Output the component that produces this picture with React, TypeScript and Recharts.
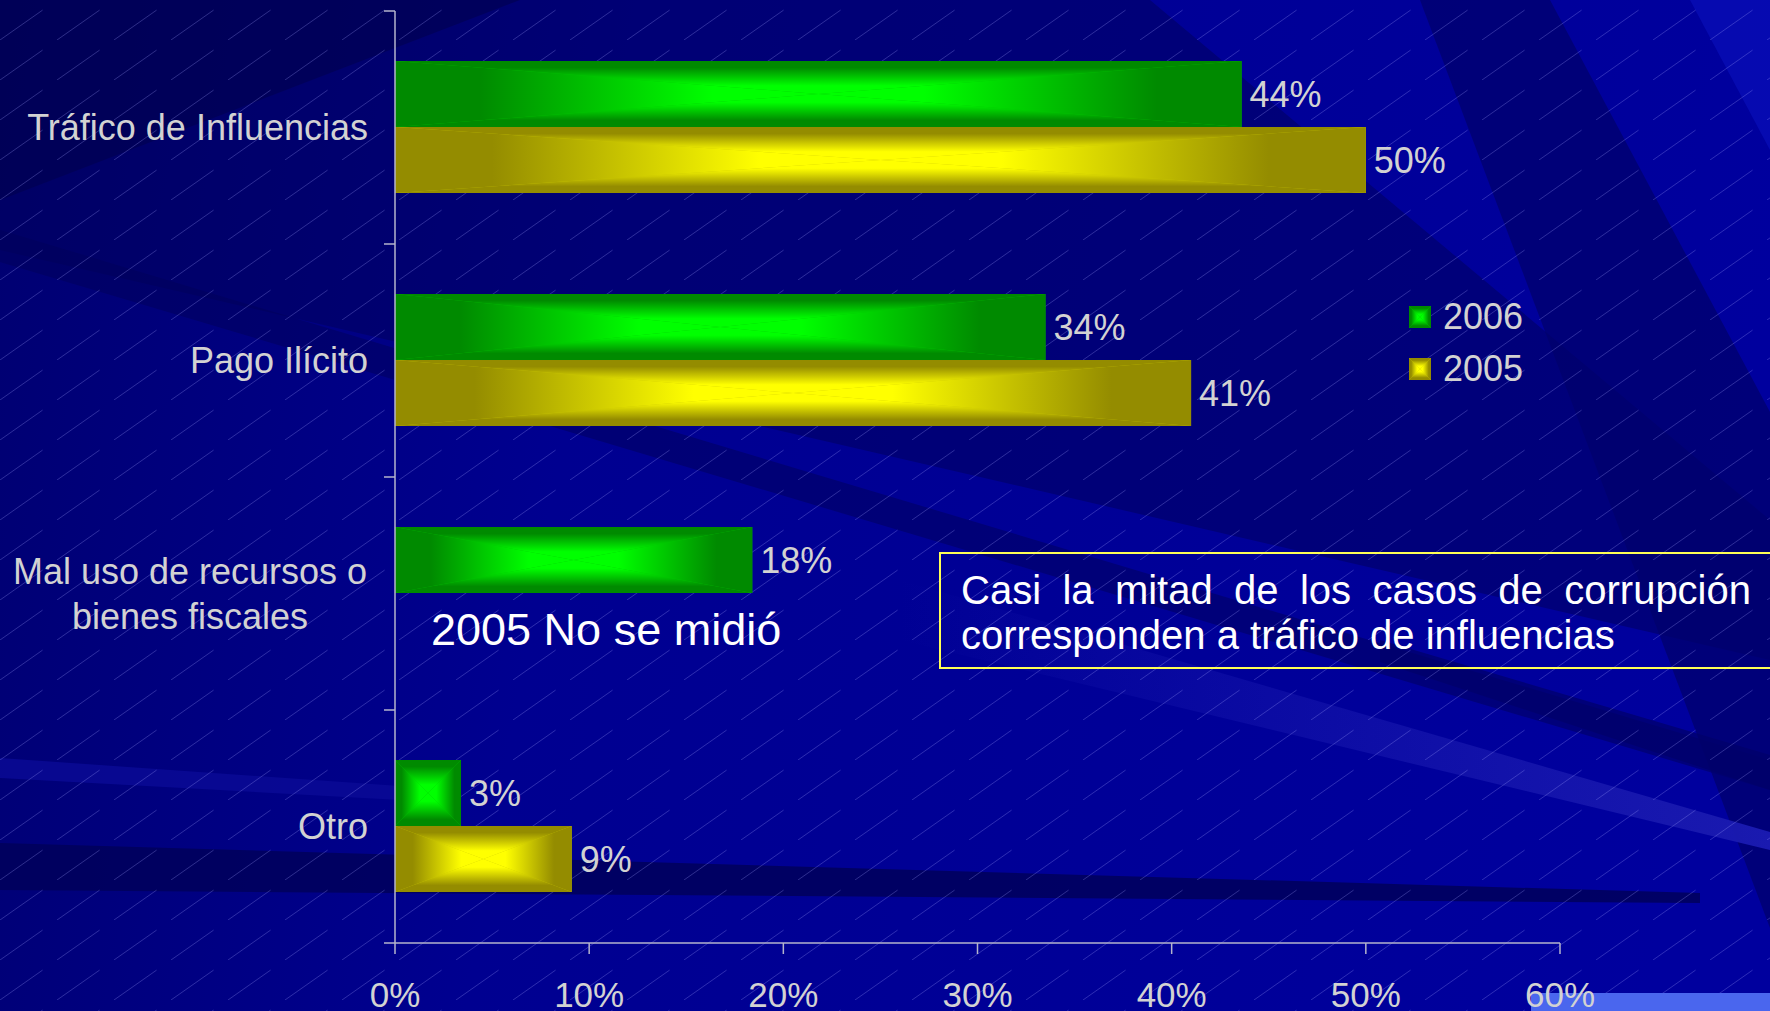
import React from 'react';
import { Bar, BarChart, LabelList, XAxis, YAxis } from 'recharts';

const categories = [
  'Tráfico de Influencias',
  'Pago Ilícito',
  'Mal uso de recursos o\nbienes fiscales',
  'Otro',
];
const values2006 = [43.6, 33.5, 18.4, 3.4];
const values2005: (number | null)[] = [50, 41, null, 9.1];
const seriesNames = ['2006', '2005'];
const xTicks = [0, 10, 20, 30, 40, 50, 60];
const noteText = 'Casi la mitad de los casos de corrupción corresponden a tráfico de influencias';
const missingText = '2005 No se midió';

const data = categories.map((name, i) => ({
  name,
  y2006: values2006[i],
  y2005: values2005[i],
}));

const FONT = '"Liberation Sans", Arial, sans-serif';
const LABEL_GREY = '#d2d2d2';
const AXIS_GREY = '#b4b4cc';

const tones = {
  green: { edge: '#008a00', mid: '#00c400', center: '#00ff00' },
  yellow: { edge: '#948c00', mid: '#c8c400', center: '#ffff00' },
};

function PillowDefs() {
  const dirs: [string, number, number, number, number][] = [
    ['t', 0, 0, 0, 1],
    ['b', 0, 1, 0, 0],
    ['l', 0, 0, 1, 0],
    ['r', 1, 0, 0, 0],
  ];
  return (
    <>
      {Object.entries(tones).map(([key, c]) =>
        dirs.map(([d, x1, y1, x2, y2]) => (
          <linearGradient key={key + d} id={`${key}-${d}`} x1={x1} y1={y1} x2={x2} y2={y2}>
            <stop offset='0' stopColor={c.edge} />
            <stop offset='0.2' stopColor={c.edge} />
            <stop offset='0.75' stopColor={c.center} />
            <stop offset='1' stopColor={c.center} />
          </linearGradient>
        ))
      )}
    </>
  );
}

// rectangle "path gradient": four triangles fading from each edge to the centre
function Pillow({ x, y, width, height, tone }: any) {
  if (!width || !height || width <= 0) return null;
  const x2 = x + width;
  const y2 = y + height;
  const cx = x + width / 2;
  const cy = y + height / 2;
  return (
    <g>
      <rect x={x} y={y} width={width} height={height} fill={tones[tone].mid} />
      <polygon points={`${x},${y} ${x2},${y} ${cx},${cy}`} fill={`url(#${tone}-t)`} />
      <polygon points={`${x},${y2} ${x2},${y2} ${cx},${cy}`} fill={`url(#${tone}-b)`} />
      <polygon points={`${x},${y} ${x},${y2} ${cx},${cy}`} fill={`url(#${tone}-l)`} />
      <polygon points={`${x2},${y} ${x2},${y2} ${cx},${cy}`} fill={`url(#${tone}-r)`} />
    </g>
  );
}

function CategoryTick(props: any) {
  const { x, y, payload, index, visibleTicksCount } = props;
  const axisX = x + 27;
  const half = payload?.offset || 116.5;
  const lines = String(payload.value).split('\n');
  const last = index === visibleTicksCount - 1;
  return (
    <g>
      <line x1={axisX - 11} x2={axisX} y1={y - half} y2={y - half} stroke={AXIS_GREY} strokeWidth={1.5} />
      {last && (
        <line x1={axisX - 11} x2={axisX} y1={y + half} y2={y + half} stroke={AXIS_GREY} strokeWidth={1.5} />
      )}
      {lines.length === 1 ? (
        <text x={x} y={y + 12} textAnchor='end' fill={LABEL_GREY} fontSize={36} fontFamily={FONT}>
          {lines[0]}
        </text>
      ) : (
        lines.map((line, i) => (
          <text
            key={i}
            x={x - 178}
            y={y - 10 + i * 45}
            textAnchor='middle'
            fill={LABEL_GREY}
            fontSize={36}
            fontFamily={FONT}
          >
            {line}
          </text>
        ))
      )}
    </g>
  );
}

function Background() {
  return (
    <svg width={1770} height={1011} style={{ position: 'absolute', left: 0, top: 0 }}>
      <defs>
        <linearGradient id='bgBase' x1='0' y1='0' x2='1770' y2='300' gradientUnits='userSpaceOnUse'>
          <stop offset='0' stopColor='#000070' />
          <stop offset='0.35' stopColor='#000090' />
          <stop offset='1' stopColor='#00009e' />
        </linearGradient>
        <linearGradient id='lightRay' x1='900' y1='0' x2='1770' y2='0' gradientUnits='userSpaceOnUse'>
          <stop offset='0' stopColor='#1a1ab0' stopOpacity='0' />
          <stop offset='1' stopColor='#1a1ab0' stopOpacity='1' />
        </linearGradient>
        <pattern id='hatch' width='57' height='40' patternUnits='userSpaceOnUse'>
          <line
            x1='0'
            y1='40'
            x2='57'
            y2='0'
            stroke='#a0a0ff'
            strokeWidth='1'
            strokeOpacity='0.28'
            strokeDasharray='52 18'
          />
        </pattern>
        <PillowDefs />
      </defs>
      <rect width={1770} height={1011} fill='url(#bgBase)' />
      <polygon points='0,0 1150,0 1770,520 1770,660 0,250' fill='#00005a' fillOpacity={0.5} />
      <polygon points='0,0 520,0 0,200' fill='#00004e' fillOpacity={0.6} />
      <polygon points='0,230 1770,760 1770,790 0,262' fill='#00005a' fillOpacity={0.5} />
      <polygon points='1420,0 1550,0 1770,412 1770,928' fill='#00006c' fillOpacity={0.75} />
      <polygon points='1690,0 1770,0 1770,150' fill='#0c14c4' fillOpacity={0.5} />
      <polygon points='1380,640 1770,755 1770,790 1380,662' fill='#00006a' fillOpacity={0.7} />
      <polygon points='900,580 1770,832 1770,850 900,640' fill='url(#lightRay)' />
      <polygon points='0,843 1700,893 1700,903 0,890' fill='#00005a' fillOpacity={0.85} />
      <polygon points='0,758 400,786 400,800 0,778' fill='#0a0a96' fillOpacity={0.8} />
      <rect width={1770} height={1011} fill='url(#hatch)' />
      <rect x={1531} y={993} width={239} height={18} fill='#4a66ee' />
    </svg>
  );
}

function LegendSwatch({ tone }: { tone: string }) {
  return (
    <svg width={22} height={22} style={{ display: 'block' }}>
      <Pillow x={0} y={0} width={22} height={22} tone={tone} />
    </svg>
  );
}

export default function App() {
  const pct = (v: any) => (v == null ? '' : `${Math.round(Number(v))}%`);
  return (
    <div style={{ position: 'relative', width: 1770, height: 1011, overflow: 'hidden', fontFamily: FONT }}>
      <style>{'body{margin:0;overflow:hidden;}'}</style>
      <Background />
      <div style={{ position: 'absolute', left: 0, top: 0 }}>
        <BarChart
          width={1770}
          height={1011}
          data={data}
          layout='vertical'
          margin={{ top: 11, right: 210, bottom: 0, left: 0 }}
          barCategoryGap='21.46%'
          barGap={0}
        >
          <XAxis
            type='number'
            domain={[0, 60]}
            ticks={xTicks}
            interval={0}
            tickFormatter={(v) => `${v}%`}
            height={68}
            stroke={AXIS_GREY}
            strokeWidth={1.5}
            tickSize={11}
            tickMargin={28}
            tick={{ fill: LABEL_GREY, fontSize: 35, fontFamily: FONT }}
          />
          <YAxis
            type='category'
            dataKey='name'
            width={395}
            stroke={AXIS_GREY}
            strokeWidth={1.5}
            tickLine={false}
            tickSize={11}
            tickMargin={16}
            interval={0}
            tick={<CategoryTick />}
          />
          <Bar
            dataKey='y2006'
            name={seriesNames[0]}
            fill='#00c400'
            isAnimationActive={false}
            shape={(p: any) => <Pillow {...p} tone='green' />}
          >
            <LabelList
              dataKey='y2006'
              position='right'
              offset={8}
              formatter={pct}
              fill={LABEL_GREY}
              fontSize={36}
              fontFamily={FONT}
            />
          </Bar>
          <Bar
            dataKey='y2005'
            name={seriesNames[1]}
            fill='#c8c400'
            isAnimationActive={false}
            shape={(p: any) => <Pillow {...p} tone='yellow' />}
          >
            <LabelList
              dataKey='y2005'
              position='right'
              offset={8}
              formatter={pct}
              fill={LABEL_GREY}
              fontSize={36}
              fontFamily={FONT}
            />
          </Bar>
        </BarChart>
      </div>

      {/* legend */}
      <div style={{ position: 'absolute', left: 1409, top: 291 }}>
        {seriesNames.map((s, i) => (
          <div key={s} style={{ display: 'flex', alignItems: 'center', height: 52 }}>
            <LegendSwatch tone={i === 0 ? 'green' : 'yellow'} />
            <span style={{ marginLeft: 12, fontSize: 36, color: LABEL_GREY, lineHeight: '40px' }}>{s}</span>
          </div>
        ))}
      </div>

      {/* missing-series note */}
      <div
        style={{
          position: 'absolute',
          left: 431,
          top: 604,
          fontSize: 45,
          lineHeight: '52px',
          color: '#ffffff',
          whiteSpace: 'nowrap',
        }}
      >
        {missingText}
      </div>

      {/* callout box */}
      <div
        style={{
          position: 'absolute',
          left: 939,
          top: 552,
          width: 851,
          height: 113,
          border: '2px solid #ffff55',
          boxSizing: 'content-box',
        }}
      >
        <div
          style={{
            marginLeft: 20,
            marginTop: 14,
            width: 790,
            fontSize: 40,
            lineHeight: '45px',
            color: '#ffffff',
            textAlign: 'justify',
          }}
        >
          {noteText}
        </div>
      </div>
    </div>
  );
}
